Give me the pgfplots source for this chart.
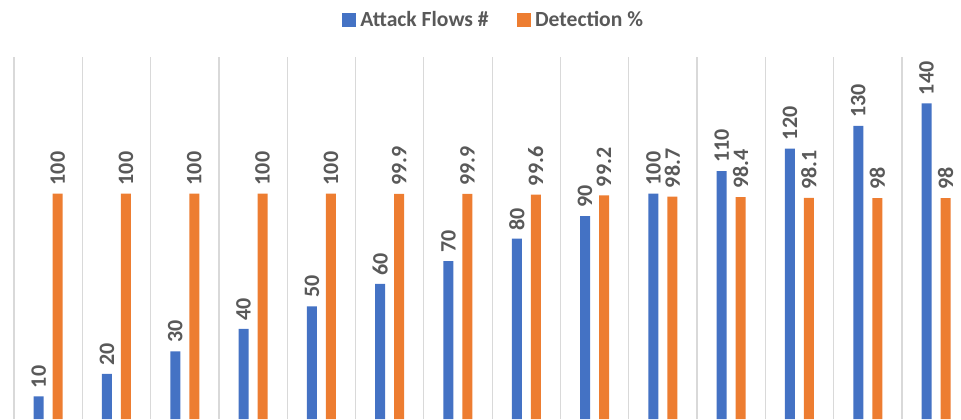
\documentclass[border=0pt]{standalone}
\usepackage{fontspec}
\setmainfont{Carlito}
\usepackage{pgfplots}
\pgfplotsset{compat=1.18}
\definecolor{barblue}{HTML}{4472C4}
\definecolor{barorange}{HTML}{ED7D31}
\definecolor{labelgray}{HTML}{595959}
\definecolor{gridgray}{HTML}{D9D9D9}

\begin{document}
\begin{tikzpicture}
\begin{axis}[
  at={(0,0)}, anchor=south west,
  scale only axis, width=480.5pt, height=181pt,
  xmin=-0.705, xmax=13.365, ymin=0, ymax=160.6,
  axis line style={draw=none},
  xtick={-0.5,0.5,...,12.5}, xticklabels={},
  ytick=\empty,
  major tick length=0pt,
  xmajorgrids,
  major grid style={gridgray, line width=0.6pt},
  ybar=4.5pt, bar width=5pt,
  /pgf/number format/assume math mode=true,
  nodes near coords,
  every node near coord/.append style={
    rotate=90, anchor=west, inner sep=4pt,
    font=\bfseries\fontsize{11}{13}\selectfont, text=labelgray},
  legend columns=2,
  legend style={
    at={(0.5146,1.102)}, anchor=center, draw=none, fill=none,
    font=\bfseries\fontsize{10.8}{13}\selectfont, text=labelgray,
    /tikz/every even column/.append style={column sep=12pt}},
  legend image code/.code={\fill[#1] (0pt,-3.6pt) rectangle (7.2pt,3.6pt);},
]
\addplot[fill=barblue, draw=none] coordinates {
  (0,10) (1,20) (2,30) (3,40) (4,50) (5,60) (6,70)
  (7,80) (8,90) (9,100) (10,110) (11,120) (12,130) (13,140)};
\addplot[fill=barorange, draw=none] coordinates {
  (0,100) (1,100) (2,100) (3,100) (4,100) (5,99.9) (6,99.9)
  (7,99.6) (8,99.2) (9,98.7) (10,98.4) (11,98.1) (12,98) (13,98)};
\legend{Attack Flows \#, Detection \%}
\end{axis}
\pgfresetboundingbox
\path[use as bounding box] (0,0) rectangle (480.5pt,209.5pt);
\end{tikzpicture}
\end{document}
